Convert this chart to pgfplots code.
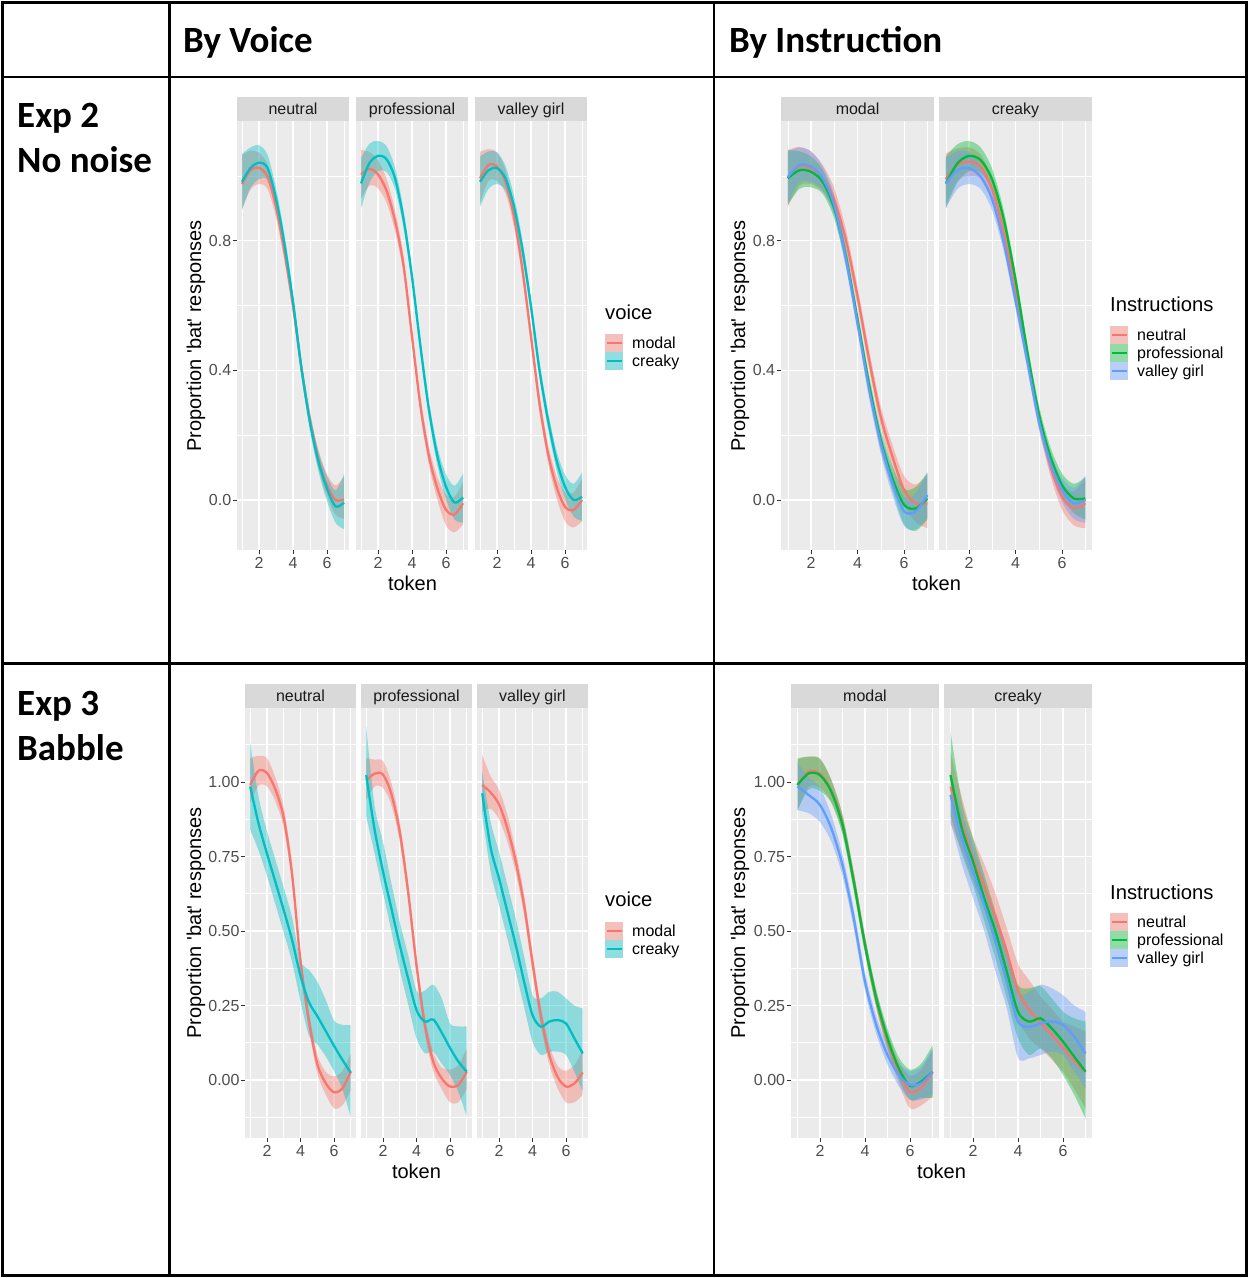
\documentclass[border=0pt]{standalone}
\usepackage{pgfplots}
\pgfplotsset{compat=1.18}
\usepackage{pgfplotstable}
\usepgfplotslibrary{fillbetween}
\usepackage{fontspec}
\setmainfont{Liberation Sans}[Ligatures=TeXOff]
\newfontfamily\hdr{Carlito}
\definecolor{ggbg}{HTML}{EBEBEB}
\definecolor{stripc}{HTML}{D9D9D9}
\definecolor{keybg}{HTML}{F2F2F2}
\definecolor{gg30}{HTML}{4D4D4D}
\definecolor{gg20}{HTML}{333333}
\definecolor{gg10}{HTML}{1A1A1A}
\definecolor{cR}{HTML}{F8766D}
\definecolor{cC}{HTML}{00BFC4}
\definecolor{cG}{HTML}{00BA38}
\definecolor{cB}{HTML}{619CFF}
\newcommand\tickfont{\fontsize{16}{18}\selectfont}
\newcommand\stripfont{\fontsize{16}{18}\selectfont}
\newcommand\titlefont{\fontsize{20}{24}\selectfont}
\newcommand\legfont{\fontsize{16}{18}\selectfont}
\newcommand\legtitlefont{\fontsize{20.2}{22}\selectfont}
\newcommand\hdrfont{\hdr\bfseries\fontsize{37}{40}\selectfont}

% ---------------- data ----------------
\pgfplotstableread{
t a alo ahi b blo bhi
1 0.975 0.895 1.065 0.982 0.898 1.068
1.5 1.018 0.958 1.078 1.025 0.963 1.088
2 1.025 0.975 1.072 1.041 0.990 1.095
2.5 0.998 0.960 1.036 1.025 0.988 1.065
3 0.905 0.872 0.938 0.930 0.897 0.963
3.5 0.765 0.737 0.793 0.790 0.762 0.818
4 0.600 0.576 0.624 0.612 0.588 0.636
4.5 0.405 0.381 0.429 0.406 0.382 0.430
5 0.245 0.219 0.271 0.240 0.213 0.267
5.5 0.125 0.096 0.154 0.118 0.088 0.148
6 0.045 0.010 0.080 0.035 -0.004 0.074
6.5 0.000 -0.045 0.045 -0.020 -0.070 0.030
7 0.002 -0.058 0.072 -0.008 -0.090 0.080
}\PoneN
\pgfplotstableread{
t a alo ahi b blo bhi
1 1.005 0.930 1.080 0.977 0.900 1.055
1.5 1.022 0.970 1.074 1.040 0.980 1.100
2 1.005 0.962 1.048 1.062 1.015 1.108
2.5 0.955 0.918 0.992 1.052 1.012 1.092
3 0.862 0.830 0.894 0.993 0.960 1.026
3.5 0.725 0.697 0.753 0.868 0.840 0.896
4 0.505 0.481 0.529 0.689 0.665 0.713
4.5 0.290 0.264 0.316 0.473 0.449 0.497
5 0.135 0.106 0.164 0.278 0.252 0.304
5.5 0.035 0.000 0.070 0.134 0.105 0.163
6 -0.030 -0.078 0.018 0.041 0.003 0.079
6.5 -0.045 -0.100 0.010 -0.008 -0.060 0.044
7 -0.010 -0.075 0.055 0.008 -0.070 0.082
}\PoneP
\pgfplotstableread{
t a alo ahi b blo bhi
1 0.993 0.915 1.075 0.982 0.905 1.060
1.5 1.034 0.985 1.083 1.018 0.960 1.076
2 1.029 0.985 1.073 1.024 0.975 1.073
2.5 0.982 0.946 1.018 0.993 0.955 1.031
3 0.874 0.843 0.905 0.905 0.872 0.938
3.5 0.710 0.682 0.738 0.772 0.744 0.800
4 0.504 0.480 0.528 0.597 0.573 0.621
4.5 0.298 0.272 0.324 0.401 0.377 0.425
5 0.144 0.116 0.172 0.247 0.221 0.273
5.5 0.041 0.007 0.075 0.123 0.094 0.152
6 -0.021 -0.066 0.024 0.041 0.004 0.078
6.5 -0.031 -0.085 0.023 0.000 -0.050 0.050
7 0.000 -0.065 0.065 0.010 -0.065 0.085
}\PoneV
\pgfplotstableread{
t a alo ahi b blo bhi c clo chi
1 0.995 0.905 1.080 0.993 0.910 1.080 0.996 0.915 1.075
1.5 1.030 0.970 1.090 1.018 0.960 1.076 1.034 0.980 1.088
2 1.024 0.975 1.075 1.013 0.965 1.060 1.029 0.982 1.076
2.5 0.993 0.952 1.034 0.982 0.945 1.019 0.993 0.956 1.030
3 0.926 0.890 0.962 0.900 0.868 0.932 0.910 0.878 0.942
3.5 0.802 0.769 0.835 0.751 0.723 0.779 0.745 0.717 0.773
4 0.628 0.598 0.658 0.556 0.530 0.582 0.545 0.519 0.571
4.5 0.432 0.402 0.462 0.355 0.327 0.383 0.340 0.312 0.368
5 0.257 0.225 0.289 0.185 0.153 0.217 0.175 0.143 0.207
5.5 0.134 0.098 0.170 0.067 0.030 0.104 0.052 0.015 0.089
6 0.031 -0.012 0.074 -0.015 -0.075 0.035 -0.035 -0.080 0.010
6.5 -0.010 -0.068 0.048 -0.026 -0.095 0.040 -0.035 -0.090 0.020
7 -0.010 -0.087 0.078 0.005 -0.060 0.085 0.015 -0.055 0.085
}\PtwoM
\pgfplotstableread{
t a alo ahi b blo bhi c clo chi
1 0.990 0.910 1.070 0.977 0.900 1.060 0.977 0.900 1.055
1.5 1.035 0.985 1.085 1.039 0.980 1.098 1.018 0.960 1.076
2 1.044 1.000 1.088 1.062 1.015 1.108 1.024 0.975 1.073
2.5 1.029 0.992 1.066 1.049 1.010 1.088 0.998 0.960 1.036
3 0.957 0.925 0.989 0.988 0.955 1.021 0.926 0.893 0.959
3.5 0.823 0.795 0.851 0.864 0.836 0.892 0.792 0.764 0.820
4 0.640 0.615 0.665 0.679 0.655 0.703 0.615 0.591 0.639
4.5 0.440 0.415 0.465 0.460 0.436 0.484 0.430 0.406 0.454
5 0.250 0.223 0.277 0.267 0.241 0.293 0.245 0.219 0.271
5.5 0.105 0.074 0.136 0.134 0.105 0.163 0.115 0.086 0.144
6 0.010 -0.030 0.050 0.046 0.010 0.082 0.031 -0.006 0.068
6.5 -0.026 -0.078 0.026 0.005 -0.040 0.050 -0.010 -0.058 0.038
7 -0.010 -0.087 0.067 0.005 -0.060 0.070 0.000 -0.070 0.075
}\PtwoC
\pgfplotstableread{
t a alo ahi b blo bhi
1 0.990 0.930 1.080 0.985 0.840 1.130
1.5 1.038 0.988 1.088 0.860 0.770 0.950
2 1.030 0.985 1.080 0.760 0.685 0.835
2.5 0.975 0.935 1.015 0.665 0.590 0.740
3 0.880 0.845 0.915 0.570 0.495 0.645
3.5 0.690 0.658 0.722 0.470 0.395 0.545
4 0.400 0.370 0.430 0.350 0.265 0.400
4.5 0.200 0.170 0.230 0.262 0.150 0.370
5 0.055 0.023 0.087 0.215 0.120 0.330
5.5 -0.010 -0.048 0.028 0.165 0.080 0.270
6 -0.041 -0.095 0.013 0.115 0.030 0.200
6.5 -0.028 -0.085 0.030 0.068 -0.030 0.185
7 0.028 -0.035 0.088 0.025 -0.125 0.185
}\PthreeN
\pgfplotstableread{
t a alo ahi b blo bhi
1 1.005 0.940 1.080 1.023 0.885 1.185
1.5 1.028 0.985 1.075 0.840 0.760 0.920
2 1.025 0.980 1.070 0.700 0.630 0.800
2.5 0.960 0.922 0.998 0.576 0.500 0.660
3 0.833 0.800 0.866 0.453 0.370 0.530
3.5 0.632 0.600 0.664 0.341 0.255 0.420
4 0.386 0.355 0.417 0.235 0.140 0.300
4.5 0.185 0.155 0.215 0.196 0.090 0.300
5 0.062 0.030 0.094 0.203 0.095 0.320
5.5 0.006 -0.030 0.042 0.160 0.055 0.275
6 -0.022 -0.075 0.035 0.108 0.017 0.190
6.5 -0.017 -0.075 0.050 0.062 -0.040 0.180
7 0.028 -0.030 0.106 0.028 -0.123 0.180
}\PthreeP
\pgfplotstableread{
t a alo ahi b blo bhi
1 0.990 0.900 1.090 0.962 0.889 1.035
1.5 0.965 0.910 1.020 0.780 0.700 0.867
2 0.925 0.875 0.975 0.677 0.587 0.766
2.5 0.845 0.800 0.890 0.565 0.475 0.655
3 0.733 0.695 0.771 0.453 0.364 0.542
3.5 0.587 0.552 0.622 0.330 0.245 0.415
4 0.395 0.363 0.427 0.218 0.129 0.285
4.5 0.215 0.183 0.247 0.179 0.084 0.274
5 0.085 0.052 0.118 0.196 0.095 0.296
5.5 0.010 -0.028 0.048 0.201 0.095 0.296
6 -0.022 -0.075 0.031 0.190 0.084 0.274
6.5 -0.012 -0.075 0.050 0.140 0.028 0.250
7 0.025 -0.050 0.100 0.089 -0.040 0.240
}\PthreeV
\pgfplotstableread{
t a alo ahi b blo bhi c clo chi
1 0.990 0.905 1.075 0.990 0.905 1.080 0.985 0.905 1.065
1.5 1.035 0.985 1.085 1.029 0.975 1.085 0.956 0.895 1.015
2 1.028 0.980 1.078 1.023 0.970 1.078 0.923 0.865 0.980
2.5 0.972 0.935 1.010 0.968 0.930 1.006 0.845 0.800 0.890
3 0.860 0.828 0.892 0.856 0.824 0.888 0.721 0.685 0.757
3.5 0.670 0.640 0.700 0.666 0.636 0.696 0.542 0.510 0.574
4 0.455 0.427 0.483 0.453 0.425 0.481 0.330 0.300 0.360
4.5 0.270 0.240 0.300 0.274 0.245 0.303 0.185 0.155 0.215
5 0.130 0.098 0.162 0.140 0.108 0.172 0.084 0.052 0.116
5.5 0.025 -0.012 0.062 0.039 0.002 0.076 0.017 -0.020 0.054
6 -0.040 -0.095 0.015 -0.020 -0.067 0.035 -0.017 -0.065 0.030
6.5 -0.025 -0.085 0.035 -0.005 -0.060 0.055 -0.011 -0.065 0.045
7 0.025 -0.055 0.100 0.028 -0.060 0.117 0.028 -0.050 0.105
}\PfourM
\pgfplotstableread{
t a alo ahi b blo bhi c clo chi
1 0.984 0.860 1.100 1.023 0.889 1.170 0.956 0.867 1.035
1.5 0.860 0.770 0.950 0.845 0.760 0.935 0.811 0.725 0.895
2 0.745 0.666 0.815 0.733 0.654 0.810 0.700 0.610 0.790
2.5 0.650 0.575 0.725 0.610 0.533 0.688 0.587 0.500 0.670
3 0.545 0.460 0.625 0.498 0.408 0.565 0.464 0.364 0.542
3.5 0.430 0.335 0.510 0.364 0.275 0.445 0.330 0.240 0.420
4 0.300 0.207 0.390 0.229 0.140 0.319 0.196 0.075 0.290
4.5 0.235 0.140 0.335 0.196 0.084 0.308 0.179 0.073 0.296
5 0.192 0.106 0.280 0.207 0.106 0.315 0.190 0.084 0.320
5.5 0.152 0.068 0.238 0.173 0.073 0.274 0.196 0.095 0.308
6 0.108 0.028 0.196 0.129 0.017 0.229 0.185 0.084 0.285
6.5 0.064 -0.030 0.180 0.078 -0.050 0.207 0.145 0.028 0.250
7 0.028 -0.095 0.162 0.028 -0.129 0.196 0.089 -0.028 0.229
}\PfourC

% ribbon + line: table, mid, lo, hi, colour
\newcommand\rib[5]{%
  \addplot[draw=none, smooth, name path=L#2] table[x=t,y=#3]{#1};
  \addplot[draw=none, smooth, name path=H#2] table[x=t,y=#4]{#1};
  \addplot[fill=#5, fill opacity=0.4, draw=none] fill between[of=H#2 and L#2];
  \addplot[#5, line width=2.3pt, smooth] table[x=t,y=#2]{#1};
}

\pgfplotsset{
  facet/.style={
    scale only axis, xmin=0.7, xmax=7.3, clip=true,
    axis background/.style={fill=ggbg},
    axis line style={draw=none},
    grid=both,
    major grid style={white, line width=1.1pt},
    minor grid style={white, line width=0.55pt},
    xtick={2,4,6}, minor xtick={1,3,5,7}, xticklabels={2,4,6},
    tick align=outside, tick pos=left,
    major tick length=4pt, minor tick length=0pt,
    xtick style={draw=gg20, line width=0.9pt},
    ytick style={draw=gg20, line width=0.9pt},
    ticklabel style={font=\tickfont, text=gg30},
    xticklabel style={inner sep=1.5pt, yshift=-2pt},
    yticklabel style={inner sep=1.5pt},
    /pgf/number format/assume math mode=true,
  },
  yA/.style={ymin=-0.1543, ymax=1.1698, ytick={0,0.4,0.8}, minor ytick={0.2,0.6,1.0}, yticklabels={0.0,0.4,0.8}},
  yB/.style={ymin=-0.1946, ymax=1.2483, ytick={0,0.25,0.5,0.75,1}, minor ytick={-0.125,0.125,0.375,0.625,0.875,1.125}, yticklabels={0.00,0.25,0.50,0.75,1.00}},
  noy/.style={yticklabels={}, ytick style={draw=none}},
}

% strip: x0, width, top (image y), label
\newcommand\strip[4]{%
  \fill[stripc] (#1,1278-#3-24) rectangle (#1+#2,1278-#3);
  \node[anchor=base, inner sep=0, font=\stripfont, text=gg10] at (#1+#2/2,1278-#3-17.5) {#4};
}
% legend key: x, centre y (image), colour, label
\newcommand\key[4]{%
  \fill[keybg] (#1,1278-#2-9) rectangle (#1+18,1278-#2+9);
  \fill[#3, fill opacity=0.4] (#1,1278-#2-9) rectangle (#1+18,1278-#2+9);
  \draw[#3, line width=2.3pt] (#1+1.5,1278-#2) -- (#1+16.5,1278-#2);
  \node[anchor=base west, inner sep=0, font=\legfont] at (#1+27,1278-#2-5.5) {#4};
}

\begin{document}
\begin{tikzpicture}[x=1pt,y=1pt]
\path (0,0) rectangle (1249,1278);

% ===== Panel 1: Exp 2, by voice =====
\begin{axis}[facet, yA, at={(236.9pt,728pt)}, anchor=south west, width=112.2pt, height=429pt]
  \rib{\PoneN}{a}{alo}{ahi}{cR}
  \rib{\PoneN}{b}{blo}{bhi}{cC}
\end{axis}
\begin{axis}[facet, yA, noy, at={(355.9pt,728pt)}, anchor=south west, width=112.2pt, height=429pt]
  \rib{\PoneP}{a}{alo}{ahi}{cR}
  \rib{\PoneP}{b}{blo}{bhi}{cC}
\end{axis}
\begin{axis}[facet, yA, noy, at={(474.9pt,728pt)}, anchor=south west, width=112.2pt, height=429pt]
  \rib{\PoneV}{a}{alo}{ahi}{cR}
  \rib{\PoneV}{b}{blo}{bhi}{cC}
\end{axis}
\strip{236.9}{112.2}{97}{neutral}
\strip{355.9}{112.2}{97}{professional}
\strip{474.9}{112.2}{97}{valley girl}
\node[rotate=90, font=\titlefont] at (196,1278-336) {Proportion 'bat' responses};
\node[anchor=base, font=\titlefont, inner sep=0] at (412.5,1278-591) {token};
\node[anchor=base west, inner sep=0, font=\legtitlefont] at (605,1278-320) {voice};
\key{605}{343}{cR}{modal}
\key{605}{361}{cC}{creaky}

% ===== Panel 2: Exp 2, by instruction =====
\begin{axis}[facet, yA, at={(780.8pt,728pt)}, anchor=south west, width=153.5pt, height=429pt]
  \rib{\PtwoM}{a}{alo}{ahi}{cR}
  \rib{\PtwoM}{b}{blo}{bhi}{cG}
  \rib{\PtwoM}{c}{clo}{chi}{cB}
\end{axis}
\begin{axis}[facet, yA, noy, at={(938.8pt,728pt)}, anchor=south west, width=153.5pt, height=429pt]
  \rib{\PtwoC}{a}{alo}{ahi}{cR}
  \rib{\PtwoC}{b}{blo}{bhi}{cG}
  \rib{\PtwoC}{c}{clo}{chi}{cB}
\end{axis}
\strip{780.8}{153.5}{97}{modal}
\strip{938.8}{153.5}{97}{creaky}
\node[rotate=90, font=\titlefont] at (740,1278-336) {Proportion 'bat' responses};
\node[anchor=base, font=\titlefont, inner sep=0] at (936.5,1278-591) {token};
\node[anchor=base west, inner sep=0, font=\legtitlefont] at (1110,1278-312) {Instructions};
\key{1110}{335}{cR}{neutral}
\key{1110}{353}{cG}{professional}
\key{1110}{371}{cB}{valley girl}

% ===== Panel 3: Exp 3, by voice =====
\begin{axis}[facet, yB, at={(245.2pt,140pt)}, anchor=south west, width=110.55pt, height=430pt]
  \rib{\PthreeN}{a}{alo}{ahi}{cR}
  \rib{\PthreeN}{b}{blo}{bhi}{cC}
\end{axis}
\begin{axis}[facet, yB, noy, at={(361.2pt,140pt)}, anchor=south west, width=110.55pt, height=430pt]
  \rib{\PthreeP}{a}{alo}{ahi}{cR}
  \rib{\PthreeP}{b}{blo}{bhi}{cC}
\end{axis}
\begin{axis}[facet, yB, noy, at={(477.2pt,140pt)}, anchor=south west, width=110.55pt, height=430pt]
  \rib{\PthreeV}{a}{alo}{ahi}{cR}
  \rib{\PthreeV}{b}{blo}{bhi}{cC}
\end{axis}
\strip{245.2}{110.55}{684}{neutral}
\strip{361.2}{110.55}{684}{professional}
\strip{477.2}{110.55}{684}{valley girl}
\node[rotate=90, font=\titlefont] at (196,1278-923) {Proportion 'bat' responses};
\node[anchor=base, font=\titlefont, inner sep=0] at (416.5,1278-1179) {token};
\node[anchor=base west, inner sep=0, font=\legtitlefont] at (605,1278-907) {voice};
\key{605}{931}{cR}{modal}
\key{605}{949}{cC}{creaky}

% ===== Panel 4: Exp 3, by instruction =====
\begin{axis}[facet, yB, at={(790.75pt,140pt)}, anchor=south west, width=148.5pt, height=430pt]
  \rib{\PfourM}{a}{alo}{ahi}{cR}
  \rib{\PfourM}{b}{blo}{bhi}{cG}
  \rib{\PfourM}{c}{clo}{chi}{cB}
\end{axis}
\begin{axis}[facet, yB, noy, at={(943.75pt,140pt)}, anchor=south west, width=148.5pt, height=430pt]
  \rib{\PfourC}{a}{alo}{ahi}{cR}
  \rib{\PfourC}{b}{blo}{bhi}{cG}
  \rib{\PfourC}{c}{clo}{chi}{cB}
\end{axis}
\strip{790.75}{148.5}{684}{modal}
\strip{943.75}{148.5}{684}{creaky}
\node[rotate=90, font=\titlefont] at (740,1278-923) {Proportion 'bat' responses};
\node[anchor=base, font=\titlefont, inner sep=0] at (941.5,1278-1179) {token};
\node[anchor=base west, inner sep=0, font=\legtitlefont] at (1110,1278-900) {Instructions};
\key{1110}{922}{cR}{neutral}
\key{1110}{940}{cG}{professional}
\key{1110}{958}{cB}{valley girl}

% ===== table frame and headers =====
\draw[line width=2.6pt] (2.5,1278-2.5) rectangle (1246.5,1278-1275.5);
\draw[line width=2.6pt] (169.5,1278-2.5) -- (169.5,1278-1275.5);
\draw[line width=2.6pt] (714,1278-2.5) -- (714,1278-1275.5);
\draw[line width=2.6pt] (2.5,1278-77) -- (1246.5,1278-77);
\draw[line width=2.6pt] (2.5,1278-663.5) -- (1246.5,1278-663.5);
\node[anchor=base west, inner sep=0, font=\hdrfont] at (183,1278-53) {By Voice};
\node[anchor=base west, inner sep=0, font=\hdrfont] at (729,1278-53) {By Instruction};
\node[anchor=base west, inner sep=0, font=\hdrfont] at (17,1278-128) {Exp 2};
\node[anchor=base west, inner sep=0, font=\hdrfont] at (17,1278-173) {No noise};
\node[anchor=base west, inner sep=0, font=\hdrfont] at (17,1278-716) {Exp 3};
\node[anchor=base west, inner sep=0, font=\hdrfont] at (17,1278-761) {Babble};
\end{tikzpicture}
\end{document}
